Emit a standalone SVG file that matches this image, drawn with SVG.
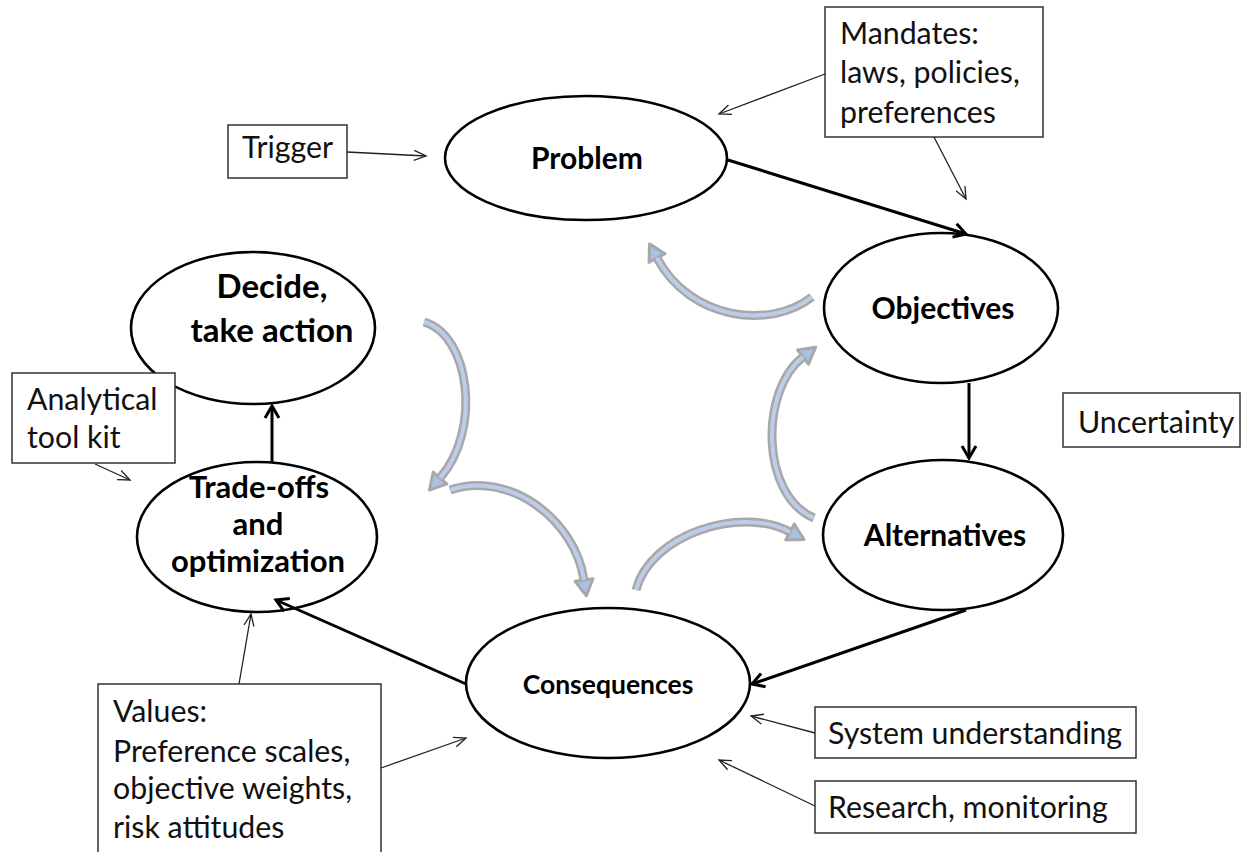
<svg xmlns="http://www.w3.org/2000/svg" width="1243" height="852" viewBox="0 0 1243 852">
<style>
.node ellipse{fill:#fff;stroke:#000;stroke-width:2.6}
.lbl{font-family:Lato,"Liberation Sans",sans-serif;font-weight:bold;fill:#000;text-anchor:middle}
.box rect{fill:#fff;stroke:#333;stroke-width:1.5}
.btxt{font-family:Lato,"Liberation Sans",sans-serif;font-size:30.3px;fill:#111}
.thick{fill:none;stroke:#000;stroke-width:3;marker-end:url(#mThick)}
.thin{fill:none;stroke:#222;stroke-width:1.3;marker-end:url(#mThin)}
.gOut{fill:none;stroke:#a8a8a8;stroke-width:9;marker-end:url(#mGray)}
.gIn{fill:none;stroke:#bccdea;stroke-width:4}
</style>
<defs>
<marker id="mThick" markerUnits="userSpaceOnUse" markerWidth="20" markerHeight="20" refX="15" refY="8" orient="auto" overflow="visible">
<path d="M3,1 L15,8 L3,15" fill="none" stroke="#000" stroke-width="3"/>
</marker>
<marker id="mThin" markerUnits="userSpaceOnUse" markerWidth="16" markerHeight="12" refX="13" refY="6" orient="auto" overflow="visible">
<path d="M1,1 L13,6 L1,11" fill="none" stroke="#222" stroke-width="1.3"/>
</marker>
<marker id="mGray" markerUnits="userSpaceOnUse" markerWidth="24" markerHeight="24" refX="1" refY="11" orient="auto" overflow="visible">
<path d="M1,2 L17,11 L1,20 Z" fill="#a9c1e6" stroke="#a8a8a8" stroke-width="3" stroke-linejoin="round"/>
</marker>
</defs>
<rect width="1243" height="852" fill="#fff"/>

<g id="problem" class="node"><ellipse cx="586" cy="158" rx="141" ry="62"/><text class="lbl" x="587" y="169" font-size="30">Problem</text></g>
<g id="objectives" class="node"><ellipse cx="941" cy="308" rx="117" ry="75"/><text class="lbl" x="943" y="319" font-size="30">Objectives</text></g>
<g id="alternatives" class="node"><ellipse cx="943" cy="535" rx="120" ry="75"/><text class="lbl" x="945" y="546" font-size="30">Alternatives</text></g>
<g id="consequences" class="node"><ellipse cx="608" cy="683" rx="142" ry="75"/><text class="lbl" x="608" y="694" font-size="26.5">Consequences</text></g>
<g id="tradeoffs" class="node"><ellipse cx="257" cy="537" rx="120" ry="75"/><text class="lbl" x="259" y="498" font-size="31">Trade-offs</text><text class="lbl" x="258" y="535" font-size="31">and</text><text class="lbl" x="258" y="572" font-size="31">optimization</text></g>
<g id="decide" class="node"><ellipse cx="253" cy="328" rx="122" ry="76"/><text class="lbl" x="272" y="298" font-size="33">Decide,</text><text class="lbl" x="272" y="342" font-size="33">take action</text></g>

<g id="trigger" class="box"><rect x="228" y="125" width="119" height="53"/><text class="btxt" x="242" y="158">Trigger</text></g>
<g id="mandates" class="box"><rect x="825" y="7" width="218" height="130"/><text class="btxt" x="840" y="44">Mandates:</text><text class="btxt" x="840" y="83">laws, policies,</text><text class="btxt" x="840" y="123">preferences</text></g>
<g id="uncertainty" class="box"><rect x="1063" y="393" width="177" height="54"/><text class="btxt" x="1078" y="433">Uncertainty</text></g>
<g id="toolkit" class="box"><rect x="12" y="373" width="163" height="90"/><text class="btxt" x="27" y="410">Analytical</text><text class="btxt" x="27" y="448">tool kit</text></g>
<g id="values" class="box"><rect x="98" y="684" width="283" height="190"/><text class="btxt" x="113" y="722">Values:</text><text class="btxt" x="113" y="762">Preference scales,</text><text class="btxt" x="113" y="799">objective weights,</text><text class="btxt" x="113" y="838">risk attitudes</text></g>
<g id="system" class="box"><rect x="815" y="707" width="321" height="51"/><text class="btxt" x="828" y="744">System understanding</text></g>
<g id="research" class="box"><rect x="815" y="781" width="321" height="52"/><text class="btxt" x="828" y="818">Research, monitoring</text></g>

<g id="connectors">
<path class="thick" d="M728,160 L966,234"/>
<path class="thick" d="M969,383 L969,458"/>
<path class="thick" d="M966,610 L752,684"/>
<path class="thick" d="M466,684 L276,600"/>
<path class="thick" d="M272,463 L272,406"/>
<path class="thin" d="M347,152 L426,156"/>
<path class="thin" d="M825,74 L719,114"/>
<path class="thin" d="M934,137 L966,199"/>
<path class="thin" d="M95,464 L130,480"/>
<path class="thin" d="M239,684 L251,614"/>
<path class="thin" d="M381,768 L466,738"/>
<path class="thin" d="M815,733 L751,716"/>
<path class="thin" d="M815,806 L719,760"/>
<g id="cycle-arrows">
<path class="gOut" d="M812,297 C770,330 690,320 657,258"/>
<path class="gIn" d="M812,297 C770,330 690,320 657,258"/>
<path class="gOut" d="M424,322 C470,335 482,430 440,478"/>
<path class="gIn" d="M424,322 C470,335 482,430 440,478"/>
<path class="gOut" d="M450,490 C510,470 575,520 584,580"/>
<path class="gIn" d="M450,490 C510,470 575,520 584,580"/>
<path class="gOut" d="M636,590 C650,535 740,505 790,532"/>
<path class="gIn" d="M636,590 C650,535 740,505 790,532"/>
<path class="gOut" d="M814,518 C760,495 760,390 803,357"/>
<path class="gIn" d="M814,518 C760,495 760,390 803,357"/>
</g>
</g>
</svg>
